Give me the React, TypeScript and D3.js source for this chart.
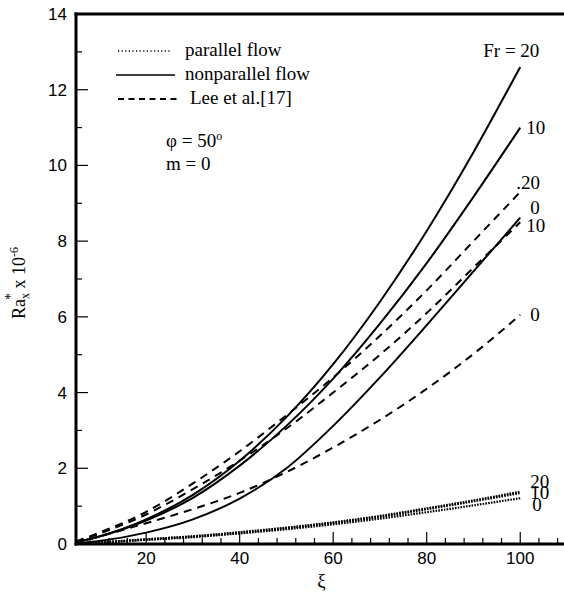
import React from 'react';
import * as d3 from 'd3';

// ξ sample positions
const XI = [5, 10, 20, 30, 40, 50, 60, 70, 80, 90, 100];

// parallel flow (dotted)
const PAR_FR20 = [0.01, 0.04, 0.12, 0.2, 0.31, 0.43, 0.57, 0.74, 0.94, 1.15, 1.38];
const PAR_FR10 = [0.01, 0.04, 0.12, 0.2, 0.3, 0.42, 0.56, 0.72, 0.92, 1.13, 1.35];
const PAR_FR0 = [0.01, 0.04, 0.11, 0.18, 0.28, 0.39, 0.52, 0.67, 0.84, 1.02, 1.21];

// nonparallel flow (solid)
const NON_FR20 = [0.05, 0.2, 0.65, 1.3, 2.2, 3.35, 4.75, 6.4, 8.27, 10.35, 12.6];
const NON_FR10 = [0.05, 0.2, 0.62, 1.22, 2.07, 3.12, 4.37, 5.82, 7.42, 9.17, 11.0];
const NON_FR0 = [0.02, 0.08, 0.3, 0.65, 1.2, 2.0, 3.12, 4.4, 5.78, 7.2, 8.62];

// Lee et al. [17] (dashed)
const LEE_FR20 = [0.07, 0.3, 0.85, 1.6, 2.45, 3.4, 4.4, 5.5, 6.7, 8.0, 9.3];
const LEE_FR10 = [0.06, 0.27, 0.78, 1.45, 2.2, 3.05, 4.0, 5.0, 6.1, 7.3, 8.5];
const LEE_FR0 = [0.05, 0.2, 0.55, 0.92, 1.35, 1.9, 2.55, 3.28, 4.1, 5.02, 6.05];

const X_MAJOR = [20, 40, 60, 80, 100];
const Y_MAJOR = [0, 2, 4, 6, 8, 10, 12, 14];

const LEGEND = ['parallel flow', 'nonparallel flow', 'Lee et al.[17]'];

export default function App() {
  const W = 564;
  const H = 603;
  const left = 76, right = 567, top = 14, bottom = 544;
  const x = d3.scaleLinear().domain([5, 110]).range([left, right]);
  const y = d3.scaleLinear().domain([0, 14]).range([bottom, top]);
  const line = (vals: number[]) =>
    d3.line<number>().x((_, i) => x(XI[i])).y((d) => y(d)).curve(d3.curveMonotoneX)(vals) || '';

  const xMinor = d3.range(8, 110, 4).filter((v) => v % 20 !== 0);
  const yMinor = d3.range(1, 14, 2);

  const serif = 'Liberation Serif, Times New Roman, serif';
  const sans = 'Liberation Sans, Arial, sans-serif';

  const dotted = '1.6 1.2';
  const dashed = '8 6';

  const xEnd = x(100);

  const endLabels = [
    { t: 'Fr = 20', dx: -37, v: 12.6, dy: -10 },
    { t: '10', dx: 6, v: 11.0, dy: 6 },
    { t: '.20', dx: -4, v: 9.3, dy: -3 },
    { t: '0', dx: 10, v: 8.6, dy: -4 },
    { t: '10', dx: 6, v: 8.5, dy: 10 },
    { t: '0', dx: 10, v: 6.05, dy: 6 },
    { t: '20', dx: 10, v: 1.38, dy: -4 },
    { t: '10', dx: 10, v: 1.35, dy: 6 },
    { t: '0', dx: 12, v: 1.21, dy: 13 },
  ];

  return (
    <svg width={W} height={H} style={{ position: 'absolute', left: 0, top: 0, background: '#fff' }}>
      <rect x={0} y={0} width={W} height={H} fill="#fff" />
      {/* curves */}
      <g fill="none" stroke="#000">
        <path d={line(PAR_FR20)} strokeWidth={2.4} strokeDasharray={dotted} />
        <path d={line(PAR_FR10)} strokeWidth={2.4} strokeDasharray={dotted} />
        <path d={line(PAR_FR0)} strokeWidth={2.2} strokeDasharray={dotted} />
        <path d={line(NON_FR20)} strokeWidth={2} />
        <path d={line(NON_FR10)} strokeWidth={2} />
        <path d={line(NON_FR0)} strokeWidth={2} />
        <path d={line(LEE_FR20)} strokeWidth={2} strokeDasharray={dashed} />
        <path d={line(LEE_FR10)} strokeWidth={2} strokeDasharray={dashed} />
        <path d={line(LEE_FR0)} strokeWidth={2} strokeDasharray={dashed} />
      </g>
      {/* axes frame */}
      <g stroke="#000" fill="none">
        <line x1={left} x2={left} y1={top - 1.5} y2={bottom + 1.5} strokeWidth={3} />
        <line x1={left - 1.5} x2={right} y1={bottom} y2={bottom} strokeWidth={3} />
        <line x1={left - 1.5} x2={right} y1={top} y2={top} strokeWidth={3} />
        <line x1={right} x2={right} y1={top} y2={bottom} strokeWidth={3} />
        {X_MAJOR.map((v) => (
          <line key={'xm' + v} x1={x(v)} x2={x(v)} y1={bottom} y2={bottom - 12} strokeWidth={1.2} />
        ))}
        {xMinor.map((v) => (
          <line key={'xn' + v} x1={x(v)} x2={x(v)} y1={bottom} y2={bottom - 6} strokeWidth={1.2} />
        ))}
        {Y_MAJOR.map((v) => (
          <line key={'ym' + v} x1={left} x2={left + 12} y1={y(v)} y2={y(v)} strokeWidth={1.2} />
        ))}
        {yMinor.map((v) => (
          <line key={'yn' + v} x1={left} x2={left + 6} y1={y(v)} y2={y(v)} strokeWidth={1.2} />
        ))}
      </g>
      {/* tick labels */}
      <g fontFamily={sans} fontSize={17} fill="#000">
        {X_MAJOR.map((v) => (
          <text key={'xl' + v} x={x(v)} y={bottom + 20} textAnchor="middle">{v}</text>
        ))}
        {Y_MAJOR.map((v) => (
          <text key={'yl' + v} x={left - 9} y={y(v) + 6} textAnchor="end">{v}</text>
        ))}
      </g>
      {/* axis titles */}
      <text x={(left + right) / 2} y={587} textAnchor="middle" fontFamily={serif} fontSize={19}>ξ</text>
      <text transform={`translate(25,283) rotate(-90)`} textAnchor="middle" fontFamily={serif} fontSize={18}>
        Ra
        <tspan fontSize={12} dy={4}>x</tspan>
        <tspan fontSize={14} dx={-7} dy={-14}>*</tspan>
        <tspan fontSize={18} dy={10}> x 10</tspan>
        <tspan fontSize={12} dy={-7}>-6</tspan>
      </text>
      {/* legend */}
      <g stroke="#000" fill="none">
        <line x1={118} x2={172} y1={51} y2={51} strokeWidth={1.6} strokeDasharray="1.2 2.4" />
        <line x1={116} x2={175} y1={75} y2={75} strokeWidth={1.5} />
        <line x1={118} x2={180} y1={99} y2={99} strokeWidth={2} strokeDasharray="6 4.5" />
      </g>
      <g fontFamily={serif} fontSize={19} fill="#000">
        <text x={185} y={56}>{LEGEND[0]}</text>
        <text x={185} y={80}>{LEGEND[1]}</text>
        <text x={190} y={104}>{LEGEND[2]}</text>
        <text x={166} y={147}>
          φ = 50<tspan fontSize={12} dy={-7}>o</tspan>
        </text>
        <text x={166} y={170}>m = 0</text>
      </g>
      {/* curve end labels */}
      <g fontFamily={serif} fontSize={19} fill="#000">
        {endLabels.map((l, i) => (
          <text key={'el' + i} x={xEnd + l.dx} y={y(l.v) + l.dy}>{l.t}</text>
        ))}
      </g>
    </svg>
  );
}
